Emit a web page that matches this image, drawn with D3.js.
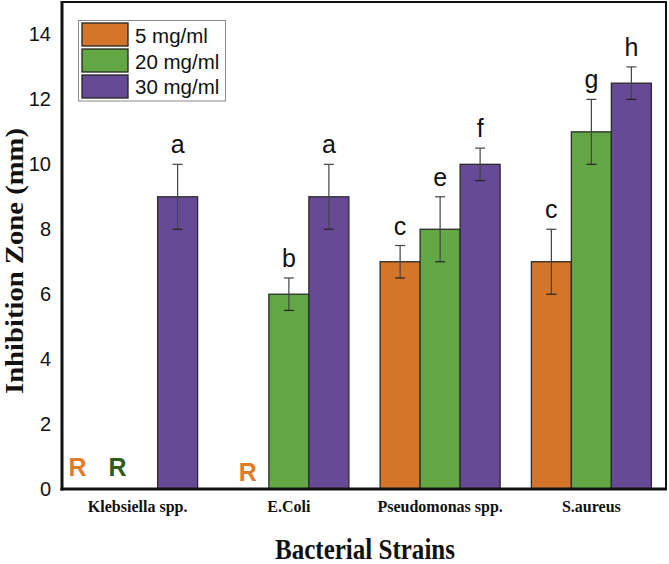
<!DOCTYPE html>
<html>
<head>
<meta charset="utf-8">
<script src="https://cdn.jsdelivr.net/npm/d3@7"></script>
<style>
  html, body { margin: 0; padding: 0; background: #fff; }
  svg { display: block; }
</style>
</head>
<body>
<svg id="chart" width="669" height="564"></svg>
<script>
// ---- data ----
const strains = ["Klebsiella spp.", "E.Coli", "Pseudomonas spp.", "S.aureus"];
const seriesNames = ["5 mg/ml", "20 mg/ml", "30 mg/ml"];
const values5  = [0, 0, 7, 7];
const values20 = [0, 6, 8, 11];
const values30 = [9, 9, 10, 12.5];
const err5  = [0, 0, 0.5, 1];
const err20 = [0, 0.5, 1, 1];
const err30 = [1, 1, 0.5, 0.5];
const letters5  = ["", "", "c", "c"];
const letters20 = ["", "b", "e", "g"];
const letters30 = ["a", "a", "f", "h"];
const yTicks = [0, 2, 4, 6, 8, 10, 12, 14];
// resistant (no zone) annotations: [strain index, series index]
const resistant = [[0, 0], [0, 1], [1, 0]];

const colors = ["#d3762a", "#63a744", "#674a96"];
const rColors = ["#e07c2a", "#2f5c1c"];

const allValues = [values5, values20, values30];
const allErr = [err5, err20, err30];
const allLetters = [letters5, letters20, letters30];

const svg = d3.select("#chart");
const mLeft = 62, mRight = 666, mTop = 2, mBottom = 489;

const x0 = d3.scaleBand().domain(strains).range([mLeft, mRight + 1])
  .paddingInner(0.2066).paddingOuter(0.1033);
const x1 = d3.scaleBand().domain(d3.range(seriesNames.length)).range([0, x0.bandwidth()]).padding(0);
const y = d3.scaleLinear().domain([0, 15]).range([mBottom, mTop]);

// bars
const rows = [];
strains.forEach((s, i) => {
  seriesNames.forEach((n, j) => {
    rows.push({ strain: s, i, j, v: allValues[j][i], e: allErr[j][i], letter: allLetters[j][i] });
  });
});

const g = svg.append("g");
g.selectAll("rect.bar").data(rows.filter(d => d.v > 0)).join("rect")
  .attr("class", "bar")
  .attr("x", d => x0(d.strain) + x1(d.j))
  .attr("y", d => y(d.v))
  .attr("width", x1.bandwidth())
  .attr("height", d => y(0) - y(d.v))
  .attr("fill", d => colors[d.j])
  .attr("stroke", "#2b2b2b")
  .attr("stroke-width", 1.3);

// error bars
const eb = g.selectAll("g.err").data(rows.filter(d => d.v > 0)).join("g").attr("class", "err");
const cx = d => x0(d.strain) + x1(d.j) + x1.bandwidth() / 2;
eb.append("line")
  .attr("x1", cx).attr("x2", cx)
  .attr("y1", d => y(d.v + d.e)).attr("y2", d => y(d.v - d.e))
  .attr("stroke", "#444").attr("stroke-width", 1.2);
eb.append("line")
  .attr("x1", d => cx(d) - 5).attr("x2", d => cx(d) + 5)
  .attr("y1", d => y(d.v + d.e)).attr("y2", d => y(d.v + d.e))
  .attr("stroke", "#444").attr("stroke-width", 1.2);
eb.append("line")
  .attr("x1", d => cx(d) - 5).attr("x2", d => cx(d) + 5)
  .attr("y1", d => y(d.v - d.e)).attr("y2", d => y(d.v - d.e))
  .attr("stroke", "#222").attr("stroke-width", 1.2);

// significance letters
g.selectAll("text.letter").data(rows.filter(d => d.letter)).join("text")
  .attr("class", "letter")
  .attr("x", cx)
  .attr("y", d => y(d.v + d.e) - 11)
  .attr("text-anchor", "middle")
  .attr("font-family", "Liberation Sans, Arial, sans-serif")
  .attr("font-size", 25)
  .attr("fill", "#111")
  .text(d => d.letter);

// R annotations
g.selectAll("text.r").data(resistant).join("text")
  .attr("class", "r")
  .attr("x", d => x0(strains[d[0]]) + x1(d[1]) + x1.bandwidth() / 2 - (d[0] === 0 ? 20 : 1))
  .attr("y", d => y(0) - (d[0] === 0 ? 13 : 8))
  .attr("text-anchor", "middle")
  .attr("font-family", "Liberation Sans, Arial, sans-serif")
  .attr("font-weight", "bold")
  .attr("font-size", 25)
  .attr("fill", d => rColors[d[1]])
  .text("R");

// frame
svg.append("rect")
  .attr("x", mLeft).attr("y", mTop)
  .attr("width", mRight - mLeft).attr("height", mBottom - mTop)
  .attr("fill", "none").attr("stroke", "#111").attr("stroke-width", 2);
svg.append("line").attr("x1", mLeft).attr("x2", mLeft).attr("y1", mTop - 1).attr("y2", mBottom + 1.5)
  .attr("stroke", "#111").attr("stroke-width", 3);
svg.append("line").attr("x1", mLeft - 1.5).attr("x2", mRight + 1).attr("y1", mBottom).attr("y2", mBottom)
  .attr("stroke", "#111").attr("stroke-width", 3);

// y axis ticks (labels only)
const yAxis = d3.axisLeft(y).tickValues(yTicks).tickSize(0).tickPadding(11);
const ya = svg.append("g").attr("transform", `translate(${mLeft},0)`).call(yAxis);
ya.select(".domain").remove();
ya.selectAll("text")
  .attr("font-family", "Liberation Sans, Arial, sans-serif")
  .attr("font-size", 20)
  .attr("fill", "#111");

// x axis labels
const xAxis = d3.axisBottom(x0).tickSize(0).tickPadding(0);
const xa = svg.append("g").attr("transform", `translate(0,${mBottom})`).call(xAxis);
xa.select(".domain").remove();
xa.selectAll("text")
  .attr("dy", null)
  .attr("y", 23)
  .attr("font-family", "Liberation Serif, Times New Roman, serif")
  .attr("font-weight", "bold")
  .attr("font-size", 16)
  .attr("fill", "#111");

// axis titles
svg.append("text")
  .attr("x", (mLeft + mRight) / 2 + 1).attr("y", 559)
  .attr("text-anchor", "middle")
  .attr("font-family", "Liberation Serif, Times New Roman, serif")
  .attr("font-weight", "bold")
  .attr("font-size", 30)
  .attr("textLength", 180).attr("lengthAdjust", "spacingAndGlyphs")
  .attr("fill", "#111")
  .text("Bacterial Strains");

svg.append("text")
  .attr("transform", "translate(23,261) rotate(-90)")
  .attr("text-anchor", "middle")
  .attr("font-family", "Liberation Serif, Times New Roman, serif")
  .attr("font-weight", "bold")
  .attr("font-size", 26)
  .attr("textLength", 266).attr("lengthAdjust", "spacingAndGlyphs")
  .attr("fill", "#111")
  .text("Inhibition Zone (mm)");

// legend
const lg = svg.append("g");
lg.append("rect").attr("x", 78.5).attr("y", 20.5).attr("width", 147).attr("height", 80.5)
  .attr("fill", "#fff").attr("stroke", "#8a8a8a").attr("stroke-width", 1);
seriesNames.forEach((n, j) => {
  lg.append("rect").attr("x", 82).attr("y", 23 + j * 26).attr("width", 46).attr("height", 23)
    .attr("fill", colors[j]).attr("stroke", "#222").attr("stroke-width", 1.3);
  lg.append("text").attr("x", 135).attr("y", 43 + j * 25.5)
    .attr("font-family", "Liberation Sans, Arial, sans-serif")
    .attr("font-size", 20.5).attr("fill", "#111").text(n);
});
</script>
</body>
</html>
